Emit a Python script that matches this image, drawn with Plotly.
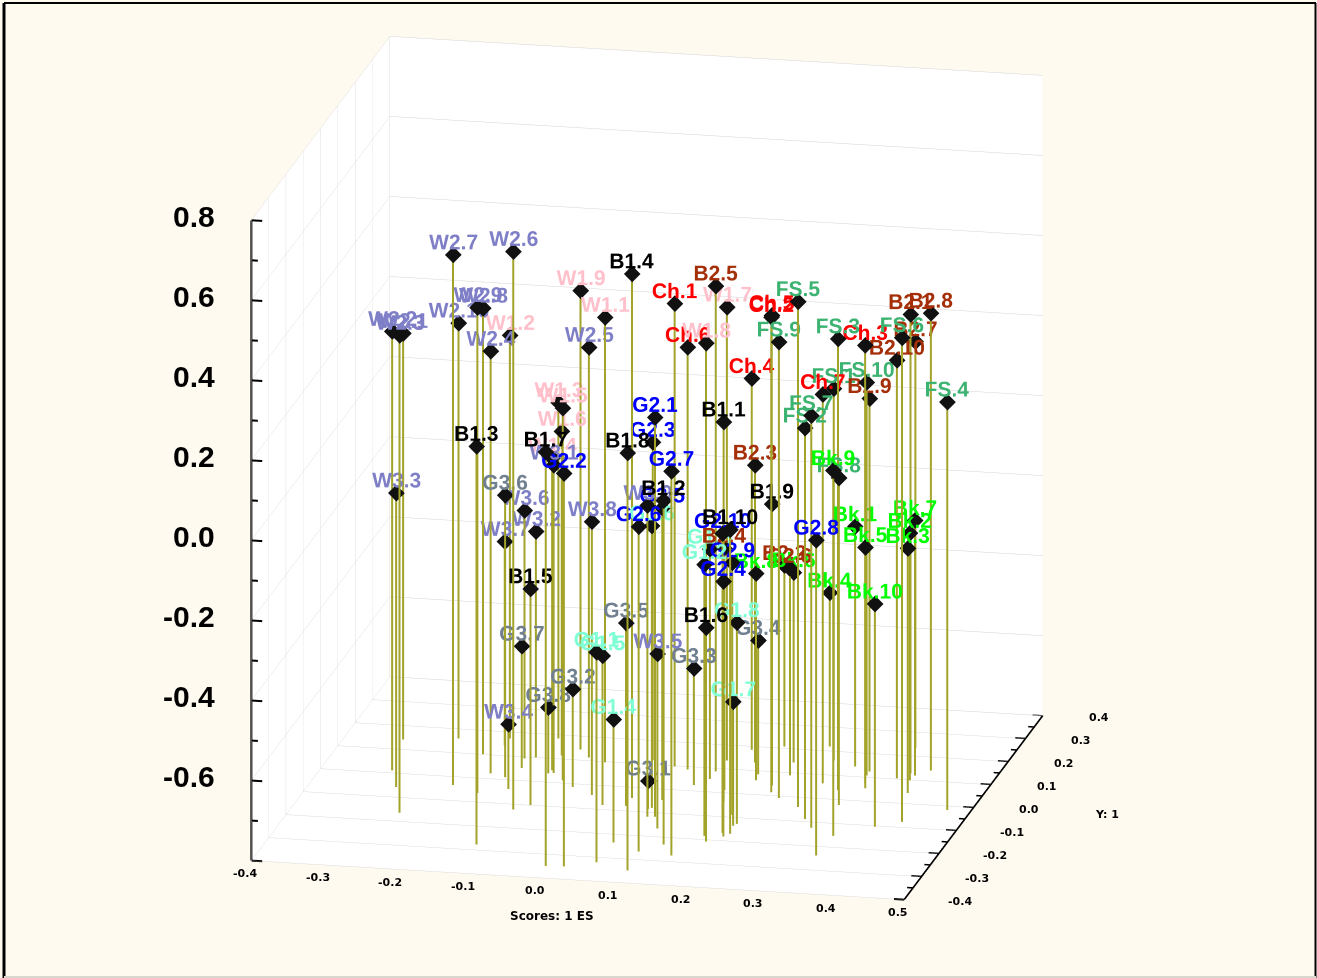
import plotly.graph_objects as go

labels = ["W1.1","W1.2","W1.3","W1.4","W1.5","W1.6","W1.7","W1.8","W1.9",
 "W2.1","W2.2","W2.3","W2.4","W2.5","W2.6","W2.7","W2.8","W2.9","W2.10",
 "W3.1","W3.2","W3.3","W3.4","W3.5","W3.6","W3.7","W3.8","W3.9",
 "B1.1","B1.2","B1.3","B1.4","B1.5","B1.6","B1.7","B1.8","B1.9","B1.10",
 "B2.1","B2.2","B2.3","B2.4","B2.5","B2.6","B2.7","B2.8","B2.9","B2.10",
 "Ch.1","Ch.2","Ch.3","Ch.4","Ch.5","Ch.6","Ch.7",
 "FS.1","FS.2","FS.3","FS.4","FS.5","FS.6","FS.7","FS.8","FS.9","FS.10",
 "Bk.1","Bk.2","Bk.3","Bk.4","Bk.5","Bk.6","Bk.7","Bk.8","Bk.9","Bk.10",
 "G1.1","G1.2","G1.3","G1.4","G1.5","G1.6","G1.7","G1.8",
 "G2.1","G2.2","G2.3","G2.4","G2.5","G2.6","G2.7","G2.8","G2.9","G2.10",
 "G3.1","G3.2","G3.3","G3.4","G3.5","G3.6","G3.7","G3.8"]
xs = [-0.031,-0.180,-0.116,-0.093,-0.069,-0.095,0.128,0.119,-0.076,
 -0.320,-0.304,-0.252,-0.171,-0.057,-0.105,-0.209,-0.200,-0.169,-0.248,
 -0.088,-0.127,-0.282,-0.132,0.104,-0.141,-0.180,-0.016,0.079,
 0.165,0.128,-0.119,0.040,-0.087,0.181,-0.006,0.106,0.212,0.205,
 0.383,0.190,0.167,0.154,0.124,0.226,0.364,0.407,0.327,0.370,
 0.065,0.218,0.333,0.150,0.197,0.085,0.277,
 0.269,0.289,0.304,0.468,0.268,0.420,0.306,0.320,0.234,0.327,
 0.303,0.389,0.399,0.250,0.338,0.218,0.391,0.186,0.343,0.389,
 0.057,0.173,0.124,0.060,0.008,0.076,0.201,0.204,
 0.089,0.018,0.030,0.199,0.082,0.102,0.149,0.340,0.189,0.194,
 0.072,-0.049,0.109,0.183,0.040,-0.148,-0.135,-0.095]
ys = [0.097,0.172,0.184,0.051,0.012,0.115,0.135,0.052,0.144,
 0.142,0.011,-0.164,0.023,0.113,-0.123,-0.035,0.100,-0.062,0.160,
 0.039,0.100,-0.058,-0.038,-0.166,0.093,0.142,-0.042,-0.119,
 -0.039,-0.231,-0.277,-0.045,-0.099,-0.208,-0.350,-0.347,0.043,-0.169,
 0.127,0.207,0.134,0.011,0.087,0.089,0.235,0.144,0.125,0.103,
 0.097,0.014,0.074,0.186,0.105,0.088,0.064,
 0.161,-0.089,0.039,-0.017,-0.041,-0.077,-0.124,-0.023,-0.009,0.108,
 0.142,0.098,0.044,0.218,0.054,0.143,0.119,0.060,-0.152,-0.104,
 -0.321,-0.184,0.053,-0.235,-0.081,-0.081,-0.135,-0.126,
 -0.117,-0.346,0.117,-0.183,-0.046,-0.266,-0.274,-0.238,-0.090,-0.167,
 -0.086,-0.014,0.024,0.085,-0.079,0.010,0.052,0.037]
zs = [0.312,0.208,0.040,-0.020,0.130,0.010,0.333,0.290,0.347,
 0.215,0.297,0.393,0.255,0.225,0.595,0.525,0.315,0.413,0.238,
 -0.030,-0.235,-0.065,-0.638,-0.363,-0.180,-0.290,-0.117,-0.022,
 0.150,0.060,0.195,0.510,-0.260,-0.265,0.235,0.243,-0.097,-0.040,
 0.347,-0.347,-0.057,-0.195,0.413,-0.283,0.215,0.343,0.132,0.245,
 0.357,0.387,0.295,0.128,0.337,0.255,0.172,
 0.130,0.177,0.328,0.220,0.463,0.410,0.230,0.018,0.340,0.182,
 -0.200,-0.182,-0.188,-0.415,-0.198,-0.325,-0.162,-0.283,0.113,-0.243,
 -0.275,-0.122,-0.225,-0.492,-0.427,-0.095,-0.490,-0.297,
 0.198,0.182,-0.005,-0.162,-0.070,0.012,0.160,-0.012,-0.170,-0.052,
 -0.730,-0.555,-0.508,-0.465,-0.343,-0.095,-0.495,-0.635]

x_ticks = [-0.4,-0.3,-0.2,-0.1,0.0,0.1,0.2,0.3,0.4,0.5]
y_ticks = [-0.4,-0.3,-0.2,-0.1,0.0,0.1,0.2,0.3,0.4]
y_minor = [-0.35,-0.25,-0.15,-0.05,0.05,0.15,0.25,0.35]
z_ticks = [-0.8,-0.6,-0.4,-0.2,0.0,0.2,0.4,0.6,0.8]
z_minor = [-0.7,-0.5,-0.3,-0.1,0.1,0.3,0.5,0.7]
x_title = "Scores: 1 ES"
y_title = "Y: 1"

COLORS = {'W1':'#ffc0cb','W2':'#7f7fc8','W3':'#7f7fc8','B1':'#000000','B2':'#a52f08','Ch':'#ff0000',
          'FS':'#3cb371','Bk':'#00ff00','G1':'#7fffd4','G2':'#0000ff','G3':'#708090'}
X0, X1, Y0, Y1, Z0, Z1 = -0.4, 0.5, -0.4, 0.4, -0.8, 0.8
LABEL_LIFT = 0.0325

fig = go.Figure()

# drop lines from each point to the floor
lx, ly, lz = [], [], []
for a, b, c in zip(xs, ys, zs):
    lx += [a, a, None]; ly += [b, b, None]; lz += [Z0, c, None]
fig.add_trace(go.Scatter3d(x=lx, y=ly, z=lz, mode='lines', line=dict(color='#a3a32a', width=4), hoverinfo='skip'))

# points
fig.add_trace(go.Scatter3d(x=xs, y=ys, z=zs, mode='markers', hoverinfo='skip',
                           marker=dict(symbol='diamond', size=5.5, color='#111111')))

# coloured labels, one trace per group
for g, col in COLORS.items():
    idx = [i for i, l in enumerate(labels) if l.startswith(g)]
    fig.add_trace(go.Scatter3d(x=[xs[i] for i in idx], y=[ys[i] for i in idx], z=[zs[i] + LABEL_LIFT for i in idx],
                               text=[labels[i] for i in idx], mode='text', textposition='middle center', hoverinfo='skip',
                               textfont=dict(family='Liberation Sans', size=21, color=col, weight='bold')))

# z axis line with inward major and minor ticks on the z and y axes
tx, ty, tz = [X0, X0, None], [Y0, Y0, None], [Z0, Z1, None]
for v, d in [(v, 0.015) for v in z_ticks] + [(v, 0.009) for v in z_minor]:
    tx += [X0, X0 + d, None]; ty += [Y0, Y0, None]; tz += [v, v, None]
for v, d in [(v, 0.014) for v in y_ticks] + [(v, 0.008) for v in y_minor]:
    tx += [X1, X1 - d, None]; ty += [v, v, None]; tz += [Z0, Z0, None]
fig.add_trace(go.Scatter3d(x=tx, y=ty, z=tz, mode='lines', line=dict(color='black', width=4), hoverinfo='skip'))

ax = dict(showbackground=True, backgroundcolor='white', gridcolor='#d4d4d4', gridwidth=1, zeroline=False,
          showspikes=False, color='black', showticklabels=False, ticks='', title=dict(text=''))
notes = []
for v in z_ticks[1:]:
    notes.append(dict(x=X0, y=Y0, z=v, text='<b>%.1f</b>' % v, showarrow=False, xanchor='right', yanchor='middle',
                      xshift=-34, yshift=4, font=dict(family='Liberation Sans', size=30, color='black')))
for v in y_ticks:
    notes.append(dict(x=X1, y=v, z=Z0, text='<b>%.1f</b>' % v, showarrow=False, xanchor='center', yanchor='middle',
                      xshift=56, yshift=-2, font=dict(family='DejaVu Sans', size=11, color='black')))
for v in x_ticks:
    notes.append(dict(x=v, y=Y0, z=Z0, text='<b>%.1f</b>' % v, showarrow=False, xanchor='center', yanchor='middle',
                      xshift=-6, yshift=-13, font=dict(family='DejaVu Sans', size=11, color='black')))
notes.append(dict(x=0.05, y=Y0, z=Z0, text='<b>%s</b>' % x_title, showarrow=False, xanchor='center', yanchor='middle',
                  xshift=-26, yshift=-36, font=dict(family='DejaVu Sans', size=12, color='black')))
notes.append(dict(x=X1, y=0.0, z=Z0, text='<b>%s</b>' % y_title, showarrow=False, xanchor='center', yanchor='middle',
                  xshift=134, yshift=-7, font=dict(family='DejaVu Sans', size=11, color='black')))

W, H = 1317.0, 978.0
def vline(px, c, w, y0=3, y1=978):
    return dict(type='line', xref='paper', yref='paper', x0=px/W, x1=px/W, y0=1-y0/H, y1=1-y1/H, line=dict(color=c, width=w))
def hline(py, c, w, x0=4, x1=1316):
    return dict(type='line', xref='paper', yref='paper', x0=x0/W, x1=x1/W, y0=1-py/H, y1=1-py/H, line=dict(color=c, width=w))

k, s = 1.40, 1.426
fig.update_layout(width=1317, height=978, paper_bgcolor='#fffaf0', margin=dict(l=0, r=0, t=0, b=0), showlegend=False,
    shapes=[vline(4, 'black', 3), vline(1315.5, 'black', 2), hline(3, 'black', 2), hline(977, '#d8d8d0', 2)],
    scene=dict(domain=dict(x=[0, 1 - 23 / 1317], y=[42 / 978, 1]),
        aspectmode='manual', aspectratio=dict(x=s, y=s, z=s),
        camera=dict(projection=dict(type='orthographic'), eye=dict(x=.199*k*s, y=-.938*k*s, z=.2815*k*s),
                    up=dict(x=0, y=0, z=1), center=dict(x=0, y=0, z=0)),
        xaxis=dict(ax, range=[X0, X1], tickvals=x_ticks, showgrid=False),
        yaxis=dict(ax, range=[Y0, Y1], tickvals=y_ticks, showline=True, linecolor='black', linewidth=4),
        zaxis=dict(ax, range=[Z0, Z1], tickvals=z_ticks),
        annotations=notes))
fig.write_html('out.html', config=dict(displayModeBar=False),
               post_script="document.body.style.margin='0';document.documentElement.style.overflow='hidden';")
